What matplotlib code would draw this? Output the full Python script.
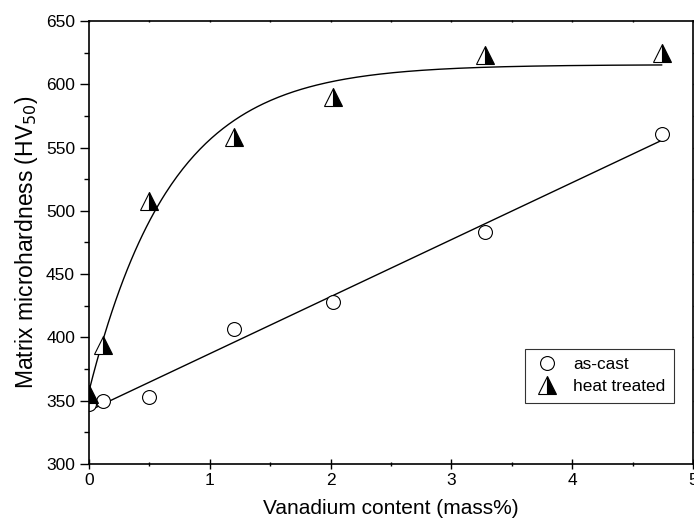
import numpy as np
import matplotlib.pyplot as plt
from matplotlib.ticker import MultipleLocator

# data
vanadium = [0.0, 0.12, 0.5, 1.2, 2.02, 3.28, 4.74]
as_cast = [347, 350, 353, 407, 428, 483, 561]
heat_treated = [355, 394, 508, 558, 590, 623, 625]

# saturating fit for heat treated: y = plateau - drop * exp(-x / scale)
ht_plateau = 615.5
ht_drop = 258.0
ht_scale = 0.68

plt.rcParams['font.family'] = ['Liberation Sans', 'DejaVu Sans']

def make_plot():
    fig = plt.figure(figsize=(6.94, 5.31), dpi=100)
    ax = fig.add_axes([0.1282, 0.1262, 0.8704, 0.8343])

    x = np.array(vanadium)
    # linear fit for as-cast
    k, b = np.polyfit(x, np.array(as_cast), 1)
    xs = np.linspace(0, x.max(), 300)
    ax.plot(xs, k * xs + b, color='black', linewidth=1.0)
    ax.plot(xs, ht_plateau - ht_drop * np.exp(-xs / ht_scale), color='black', linewidth=1.0)

    ax.plot(vanadium, as_cast, linestyle='none', marker='o', markersize=10,
            markerfacecolor='white', markeredgecolor='black', markeredgewidth=0.8,
            label='as-cast')
    ax.plot(vanadium, heat_treated, linestyle='none', marker='^', markersize=12.5,
            fillstyle='right', markerfacecolor='black', markerfacecoloralt='white',
            markeredgecolor='black', markeredgewidth=0.8, label='heat treated')

    ax.set_xlim(0, 5)
    ax.set_ylim(300, 650)
    ax.xaxis.set_major_locator(MultipleLocator(1))
    ax.xaxis.set_minor_locator(MultipleLocator(0.5))
    ax.yaxis.set_major_locator(MultipleLocator(50))
    ax.yaxis.set_minor_locator(MultipleLocator(25))

    ax.tick_params(which='both', direction='out', labelsize=12.5, width=1.0)
    ax.tick_params(which='major', length=6.5)
    ax.tick_params(which='minor', length=3.5)
    # tiny inward ticks on top and right
    ax.tick_params(which='both', top=True, right=True, labeltop=False, labelright=False)
    ax.xaxis.set_tick_params(which='both', direction='inout')
    for t in ax.xaxis.get_major_ticks() + ax.xaxis.get_minor_ticks():
        t.tick2line.set_markersize(2)
        t.tick1line.set_markersize(6.5 if t in ax.xaxis.get_major_ticks() else 3.5)
    for spine in ax.spines.values():
        spine.set_linewidth(1.2)

    ax.set_xlabel('Vanadium content (mass%)', fontsize=15, labelpad=8)
    ax.set_ylabel('Matrix microhardness (HV$_{50}$)', fontsize=16.5, labelpad=4)

    leg = ax.legend(loc='lower right', bbox_to_anchor=(0.9685, 0.1377), borderaxespad=0,
                    fontsize=12.4, frameon=True, fancybox=False, edgecolor='black',
                    handletextpad=0.7, borderpad=0.5, labelspacing=0.4, handlelength=1.6)
    leg.get_frame().set_linewidth(0.8)

    fig.savefig('out.png', dpi=100)
    plt.close(fig)

if __name__ == "__main__":
    make_plot()
